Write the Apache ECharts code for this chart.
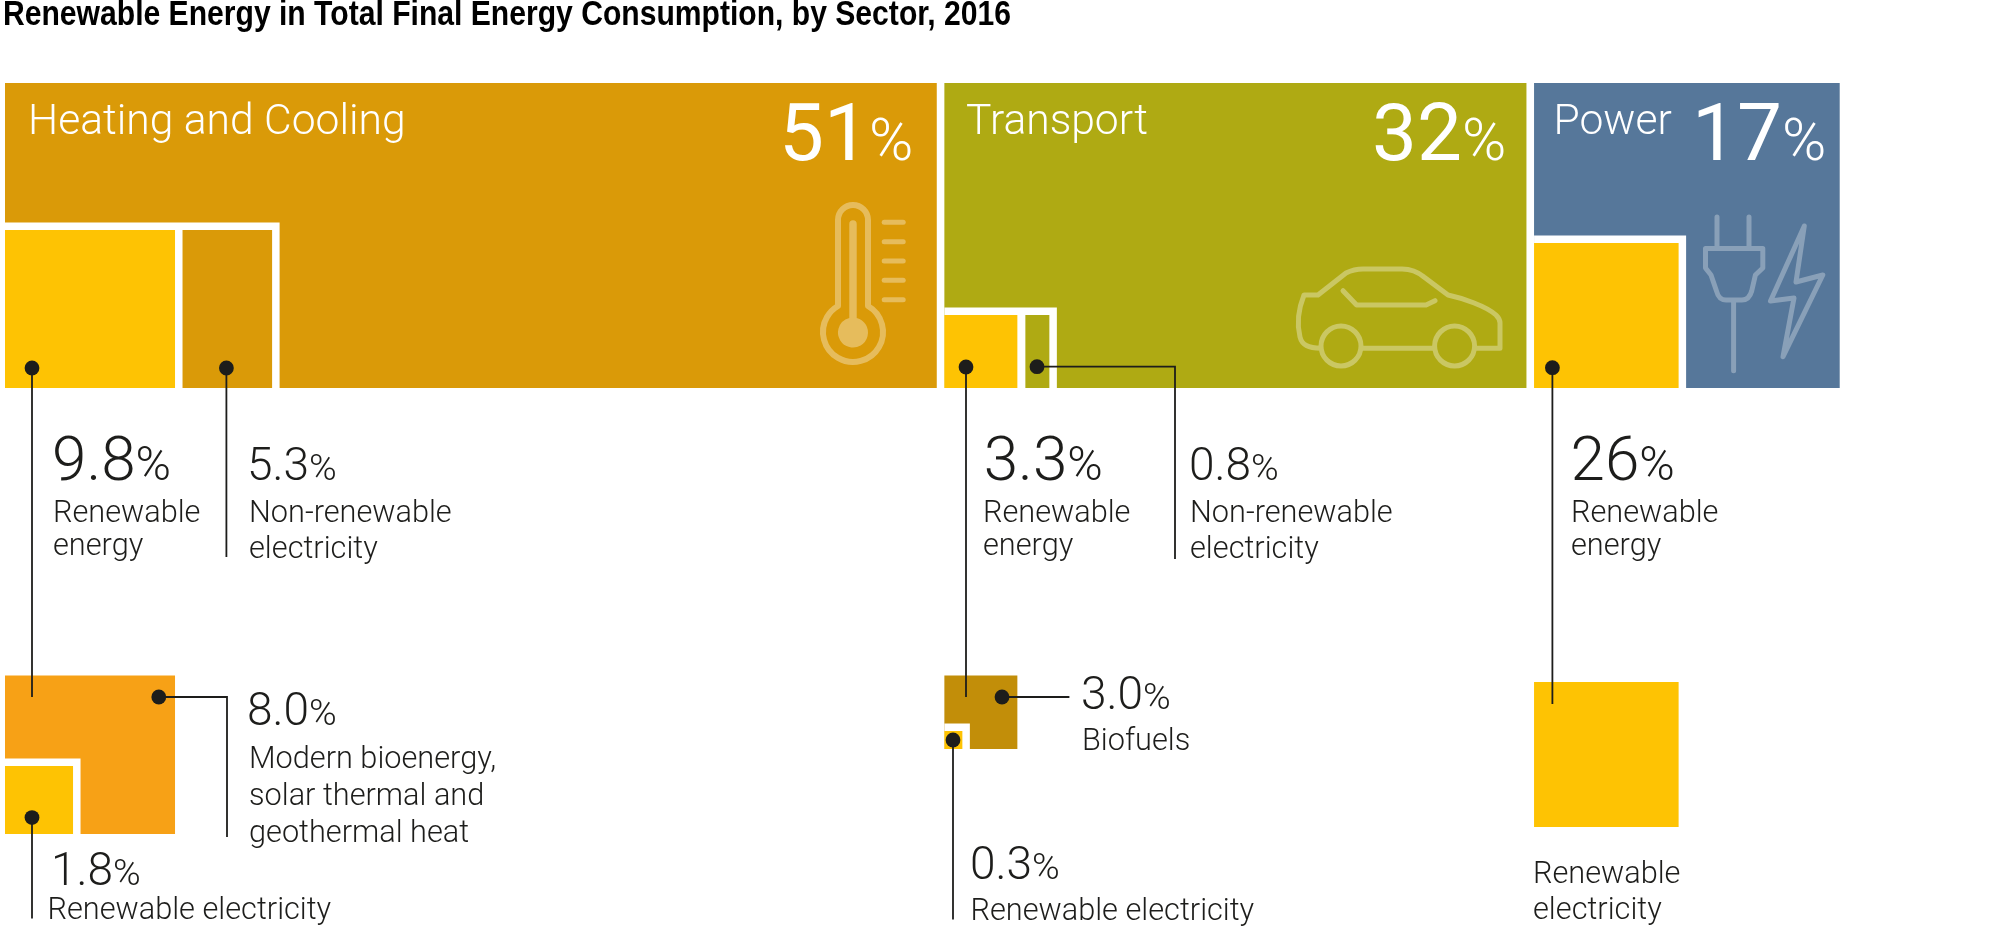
<!DOCTYPE html>
<html><head><meta charset="utf-8">
<style>html,body{margin:0;padding:0;background:#fff}#c{width:2000px;height:942px}</style>
<script src="https://cdn.jsdelivr.net/npm/echarts@6/dist/echarts.min.js"></script>
</head><body><div id="c"></div>
<script>
// ---- data ----
const titleText = 'Renewable Energy in Total Final Energy Consumption, by Sector, 2016';
const sectors = ['Heating and Cooling', 'Transport', 'Power'];
const sectorShares = [51, 32, 17];
const renewableEnergy = [9.8, 3.3, 26];
const nonRenewableElectricity = [5.3, 0.8];
const directRenewables = [8.0, 3.0];
const renewableElectricity = [1.8, 0.3, 26];
const directNames = [['Modern bioenergy,', 'solar thermal and', 'geothermal heat'], ['Biofuels']];

// ---- styles / layout (axis units equal the 2000x942 page) ----
const colors = {heat:'#DA9A08', trans:'#AFAA13', power:'#56779A', yellow:'#FEC303', orange:'#F7A116', bio:'#C28E09', white:'#FFFFFF'};
const ink = '#1D1D1B';
const FONT = 'Roboto';
const top0 = 83, bottom0 = 388, gap = 7.6, left0 = 5;
const sectorK = [18.27, 18.19, 17.98];           // axis units per share point
const sectorColor = [colors.heat, colors.trans, colors.power];
const sectorX = []; sectorShares.reduce((x, s, i) => (sectorX[i] = x, x + s * sectorK[i] + gap), left0);
const renewK = [17.35, 22.12, 5.56], nonK = [16.9, 30], nonGap = [7.5, 8];
const renewH = [158, 73, 145], outlineW = 7.5;
const rowTop2 = [675.5, 675.5, 682], row2H = [158.5, 73.5, 145];
const elecK = [37.8, 60];

const rects = [];
const R = (x0, y0, w, h, color) => rects.push({value:[x0, y0, x0 + w, y0 + h], color});
sectors.forEach((s, i) => {
  const x = sectorX[i];
  R(x, top0, sectorShares[i] * sectorK[i], bottom0 - top0, sectorColor[i]);
  const rw = renewableEnergy[i] * renewK[i];
  const nw = i < 2 ? nonGap[i] + nonRenewableElectricity[i] * nonK[i] : 0;
  R(x, bottom0 - renewH[i] - outlineW, rw + nw + outlineW, renewH[i] + outlineW, colors.white);
  R(x, bottom0 - renewH[i], rw, renewH[i], colors.yellow);
  if (i < 2) R(x + rw + nonGap[i], bottom0 - renewH[i], nonRenewableElectricity[i] * nonK[i], renewH[i], sectorColor[i]);
  // second row: the renewable share split up
  if (i < 2) {
    R(x, rowTop2[i], rw, row2H[i], i === 0 ? colors.orange : colors.bio);
    const ew = renewableElectricity[i] * elecK[i];
    R(x, rowTop2[i] + row2H[i] - ew - outlineW, ew + outlineW, ew + outlineW, colors.white);
    R(x, rowTop2[i] + row2H[i] - ew, ew, ew, colors.yellow);
  } else {
    R(x, rowTop2[i], rw, row2H[i], colors.yellow);
  }
});

// leaders: first point carries the dot
const leaders = [
  [[32,368],[32,697]], [[226.4,368],[226.4,557]], [[158.8,697],[227,697],[227,837]], [[32,817.6],[32,918.5]],
  [[966,367],[966,697]], [[1037,366.7],[1175,366.7],[1175,559]], [[1002,697],[1069.4,697]], [[953,740],[953,919.5]],
  [[1552.4,367.7],[1552.4,704]]
];

const fmt = v => Number.isInteger(v) && v > 9 ? String(v) : v.toFixed(1);
const texts = [];
const W = 350;
const T = (x, y, size, text, fill, weight) => texts.push({x, y, size, text, fill: fill || ink, weight: weight || W});
const measure = document.createElement('canvas').getContext('2d');
function pct(x, y, size, pctSize, v, fill, weight, pctWeight) {
  const s = fmt(v);
  measure.font = weight + ' ' + size + 'px ' + FONT;
  T(x, y, size, s, fill, weight);
  T(x + measure.measureText(s).width, y, pctSize, '%', fill, pctWeight || weight);
}
// sector heads
const headX = [28, 966, 1553.5], numX = [779, 1372, 1692];
sectors.forEach((s, i) => {
  T(headX[i], 133, 42.6, s, '#FFFFFF', W);
  pct(numX[i], 159.5, 80, 60, sectorShares[i], '#FFFFFF', 380, 300);
});
const big = 62, bigP = 48, mid = 46, midP = 37.5, lab = 30.7;
pct(52, 479, big, bigP, renewableEnergy[0], ink, W);
T(53, 521, lab, 'Renewable'); T(53, 554.5, lab, 'energy');
pct(247, 479, mid, midP, nonRenewableElectricity[0], ink, W);
T(249, 521, lab, 'Non-renewable'); T(249, 557, lab, 'electricity');
pct(247, 724, mid, midP, directRenewables[0], ink, W);
directNames[0].forEach((t, i) => T(249, [767, 804, 841][i], lab, t));
pct(51, 884, mid, midP, renewableElectricity[0], ink, W);
T(47.5, 918.5, lab, 'Renewable electricity');

pct(983.7, 479, big, bigP, renewableEnergy[1], ink, W);
T(983, 521, lab, 'Renewable'); T(983, 554.5, lab, 'energy');
pct(1189, 479, mid, midP, nonRenewableElectricity[1], ink, W);
T(1190, 521, lab, 'Non-renewable'); T(1190, 557, lab, 'electricity');
pct(1081, 708, mid, midP, directRenewables[1], ink, W);
T(1082, 749, lab, directNames[1][0]);
pct(970, 878, mid, midP, renewableElectricity[1], ink, W);
T(970.5, 919, lab, 'Renewable electricity');

pct(1570.5, 479, big, bigP, renewableEnergy[2], ink, W);
T(1571, 521, lab, 'Renewable'); T(1571, 554.5, lab, 'energy');
T(1533, 882, lab, 'Renewable'); T(1533, 918.5, lab, 'electricity');

const iconStroke = (a, w) => ({fill:'none', stroke:'rgba(255,255,255,'+a+')', lineWidth:w, lineCap:'round', lineJoin:'round'});
const iconFill = a => ({fill:'rgba(255,255,255,'+a+')'});
const P = (d, style) => ({type:'path', shape:{pathData:d}, style});
const ticks = [222.3,241.7,261,280.3,299.7].map(y => P('M884.2 '+y+'H903.2', iconStroke(.34,5)));
const wheel = (cx, cy, r) => 'M'+(cx-r)+' '+cy+'A'+r+' '+r+' 0 1 1 '+(cx+r)+' '+cy+'A'+r+' '+r+' 0 1 1 '+(cx-r)+' '+cy;
const icons = [
  P('M838 306V220A15 15 0 0 1 868 220V306A30 30 0 1 1 838 306Z', iconStroke(.34,6)),
  P('M849.3 224A3.7 3.7 0 0 1 856.7 224V318A15 15 0 1 1 849.3 318Z', iconFill(.34)),
  ...ticks,
  P('M1321 348.3C1308 348 1302 345 1300 337C1297 325 1298 310 1304 295H1318L1346 273C1352 270 1357 269 1363 269H1402C1411 269 1418 272 1424 277L1448 295C1462 298 1486 306 1496 315C1499 318 1500 320 1500 323V348.3H1474.6M1361 348.3H1434.6M1343 290.7L1356.6 305H1426L1435 300.7' + wheel(1341,346,20) + wheel(1454.6,346,20), iconStroke(.34,5)),
  P('M1717 217V248.5M1749 217V248.5M1705.5 248.5H1762.8V268L1755.4 275L1751.7 291C1750 297 1747 300 1742 300H1726C1721 300 1718 297 1716.5 291L1711 275L1705.5 268ZM1733.6 300V370.7', iconStroke(.3,5)),
  P('M1804.3 226L1770.5 301L1794 298L1783 356.7L1822.8 275L1796 282Z', iconStroke(.3,5))
];

// condensed bold title: no narrow face installed, so squeeze the sans to the reference width
const titleFont = 'bold 35px "Liberation Sans"';
measure.font = titleFont;
const titleScale = 1008 / measure.measureText(titleText).width;

const chart = echarts.init(document.getElementById('c'), null, {renderer:'canvas'});
chart.setOption({
  animation:false,
  backgroundColor:'#fff',
  grid:{left:0, right:0, top:0, bottom:0},
  xAxis:{type:'value', min:0, max:2000, show:false},
  yAxis:{type:'value', min:0, max:942, inverse:true, show:false},
  graphic:[{type:'text', x:3, y:15.5, scaleX:titleScale, style:{text:titleText, font:titleFont, fill:'#000', align:'left', verticalAlign:'middle'}}],
  series:[
    {type:'custom', name:'blocks', coordinateSystem:'cartesian2d', clip:false, silent:true, z:2,
     data:rects.map(r => r.value),
     renderItem:(p, api) => {
       const a = api.coord([api.value(0), api.value(1)]), b = api.coord([api.value(2), api.value(3)]);
       return {type:'rect', shape:{x:a[0], y:a[1], width:b[0]-a[0], height:b[1]-a[1]}, style:{fill:rects[p.dataIndex].color}};
     }},
    {type:'custom', name:'icons', coordinateSystem:'cartesian2d', clip:false, silent:true, z:3,
     data:icons.map((ic, i) => [i, 0]),
     renderItem:(p) => icons[p.dataIndex]},
    {type:'custom', name:'leaders', coordinateSystem:'cartesian2d', clip:false, silent:true, z:6,
     data:leaders.map(l => l[0]),
     renderItem:(p, api) => {
       const pts = leaders[p.dataIndex].map(q => api.coord(q));
       return {type:'group', children:[
         {type:'polyline', shape:{points:pts}, style:{fill:'none', stroke:ink, lineWidth:1.8}},
         {type:'circle', shape:{cx:pts[0][0], cy:pts[0][1], r:7.4}, style:{fill:ink}}
       ]};
     }},
    {type:'custom', name:'labels', coordinateSystem:'cartesian2d', clip:false, silent:true, z:7,
     data:texts.map(t => [t.x, t.y]),
     renderItem:(p, api) => {
       const t = texts[p.dataIndex], c = api.coord([t.x, t.y]);
       return {type:'text', style:{x:c[0], y:c[1] - 0.263 * t.size + 1.35, text:t.text, fill:t.fill, align:'left', verticalAlign:'middle',
         font:t.weight + ' ' + t.size + 'px ' + FONT}};
     }}
  ]
});
</script></body></html>
